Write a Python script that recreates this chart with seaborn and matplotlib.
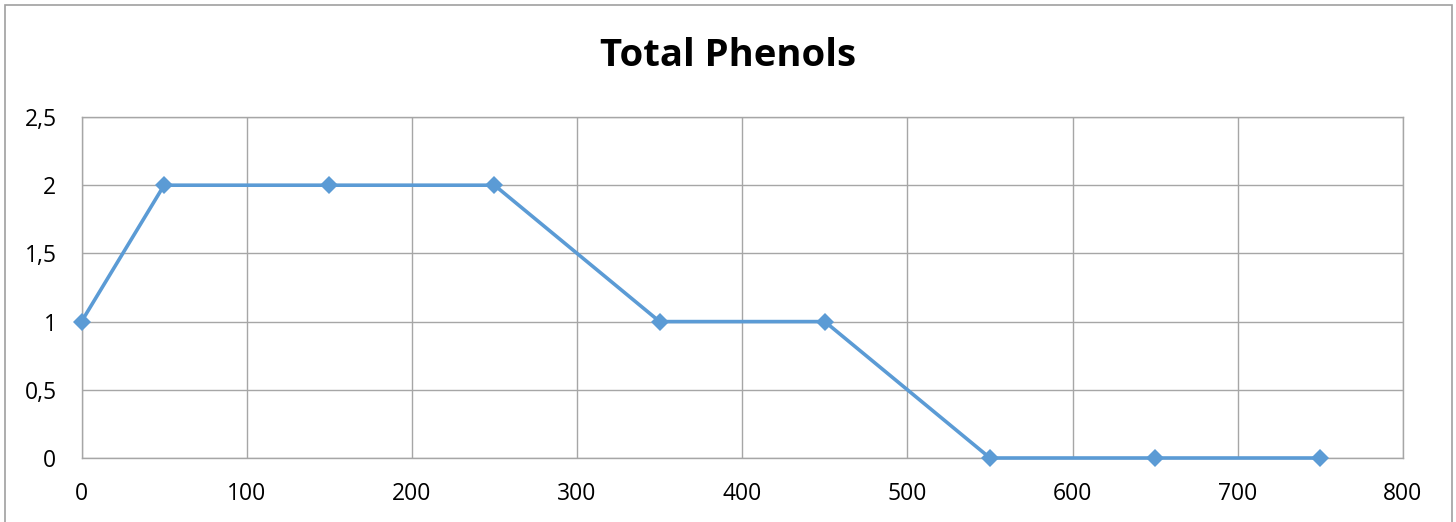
import matplotlib
matplotlib.use("Agg")
import matplotlib.pyplot as plt
import seaborn as sns
import pandas as pd
from matplotlib.patches import Rectangle

# Total phenols measurements
time_points = [0, 50, 150, 250, 350, 450, 550, 650, 750]
phenols = [1, 2, 2, 2, 1, 1, 0, 0, 0]
x_ticks = [0, 100, 200, 300, 400, 500, 600, 700, 800]
y_ticks = [0, 0.5, 1, 1.5, 2, 2.5]
y_tick_labels = ["0", "0,5", "1", "1,5", "2", "2,5"]

df = pd.DataFrame({"x": time_points, "y": phenols})

sns.set_theme(style="white")
plt.rcParams["font.family"] = ["Open Sans", "DejaVu Sans"]

fig = plt.figure(figsize=(14.56, 5.22), dpi=100)
ax = fig.add_axes([81.5 / 1456, 1 - 458 / 522, (1403 - 81.5) / 1456, (458 - 117) / 522])

grid_color = "#a6a6a6"
sns.lineplot(data=df, x="x", y="y", ax=ax, color="#5B9BD5", linewidth=2.6,
             marker="D", markersize=9, markeredgewidth=0, zorder=3, clip_on=False)

ax.set_xlim(0, 800)
ax.set_ylim(0, 2.5)
ax.set_xticks(x_ticks)
ax.set_xticklabels([str(v) for v in x_ticks])
ax.set_yticks(y_ticks)
ax.set_yticklabels(y_tick_labels)
ax.grid(True, color=grid_color, linewidth=1.0)
for s in ax.spines.values():
    s.set_color(grid_color)
    s.set_linewidth(1.0)
ax.tick_params(axis="both", length=0, labelsize=16.5, colors="black")
ax.tick_params(axis="x", pad=17)
ax.tick_params(axis="y", pad=18)
ax.set_xlabel("")
ax.set_ylabel("")

fig.text(728.5 / 1456, 1 - 56 / 522, "Total Phenols", ha="center", va="center",
         fontsize=27.5, fontweight="bold", color="black")

fig.patches.append(Rectangle((5 / 1456, -0.02), 1447 / 1456, 1.02 - 5 / 522,
                             transform=fig.transFigure, fill=False,
                             edgecolor="#a0a0a0", linewidth=1.2))

fig.savefig("out.png", dpi=100)
